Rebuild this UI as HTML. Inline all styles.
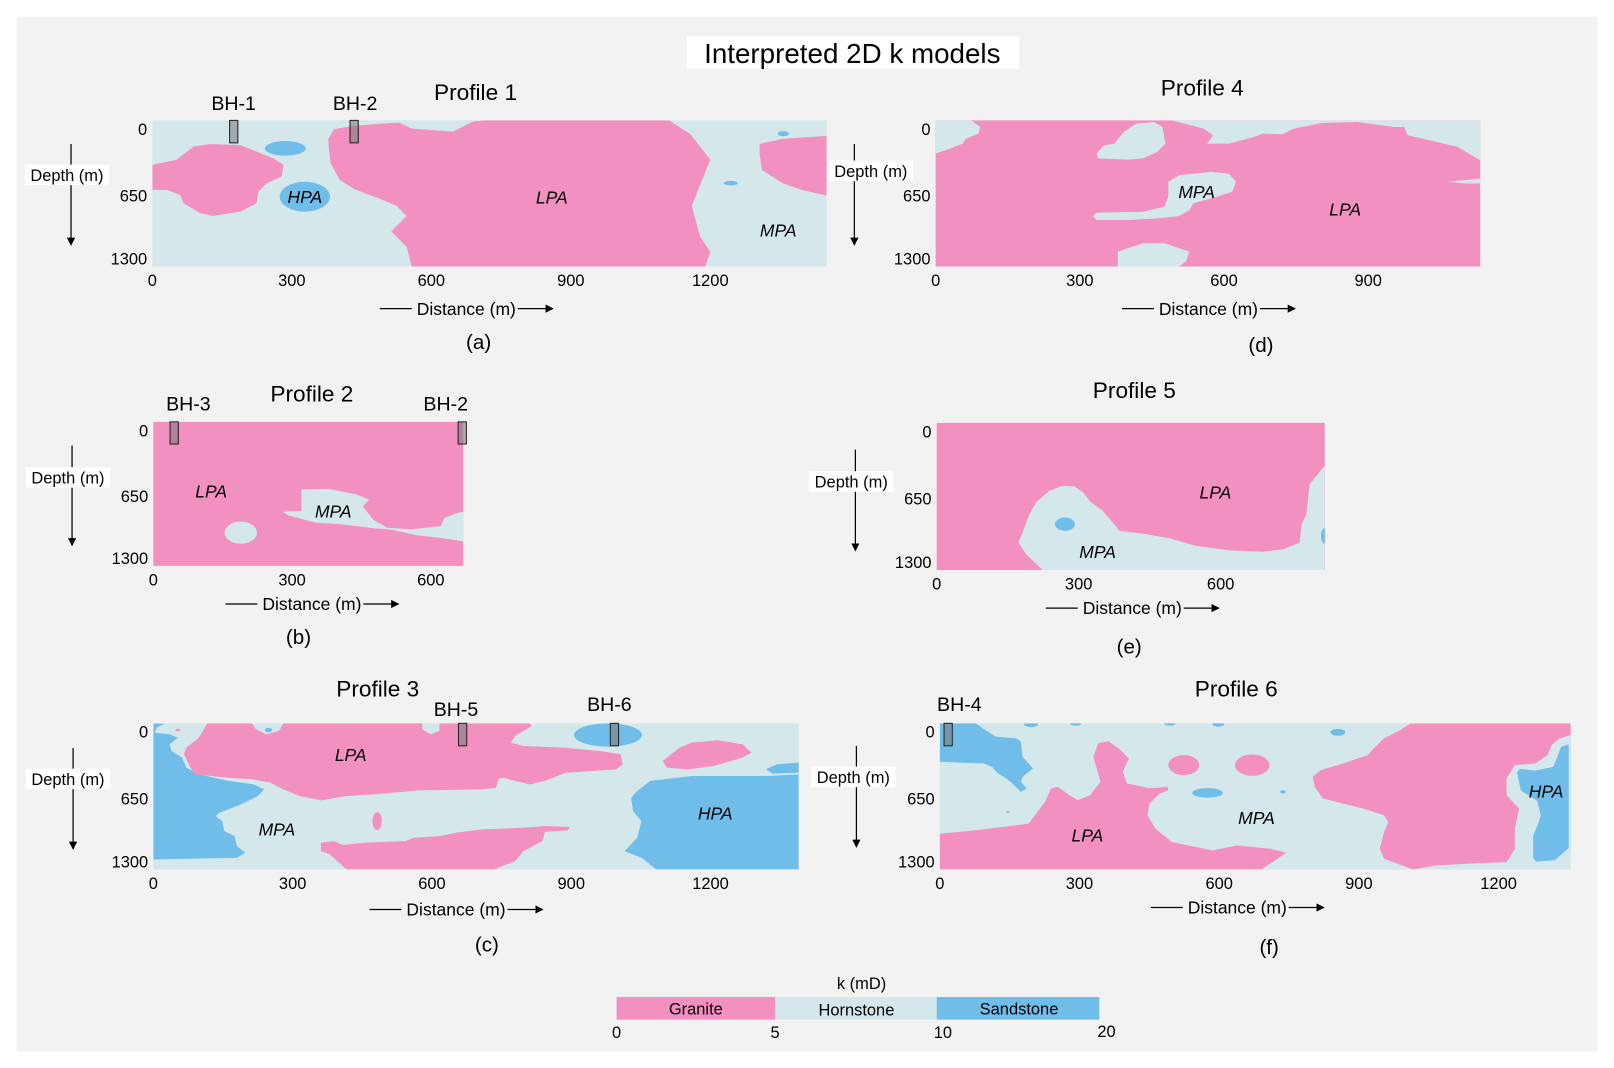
<!DOCTYPE html>
<html><head><meta charset="utf-8"><title>Interpreted 2D k models</title>
<style>
html,body{margin:0;padding:0;background:#fff;}
svg{display:block;font-family:"Liberation Sans",Arial,sans-serif;}
</style></head>
<body>
<svg id="chart" width="1614" height="1068" viewBox="0 0 1568 1038" preserveAspectRatio="none" xmlns="http://www.w3.org/2000/svg">
<rect x="0" y="0" width="1568" height="1038" fill="#ffffff"/>
<rect x="16" y="16" width="1536" height="1006" fill="#f2f2f2"/>
<rect x="667" y="35" width="323" height="32" fill="#ffffff"/>
<text x="828" y="61" font-size="27" text-anchor="middle" fill="#000">Interpreted 2D k models</text>
<g id="legend">
<text x="837" y="961" font-size="16" text-anchor="middle">k (mD)</text>
<rect x="599" y="969" width="154" height="22" fill="#f290c0"/>
<rect x="753" y="969" width="157" height="22" fill="#d4e7ea"/>
<rect x="910" y="969" width="158" height="22" fill="#70bdea"/>
<text x="676" y="986" font-size="16" text-anchor="middle">Granite</text>
<text x="832" y="987" font-size="16" text-anchor="middle">Hornstone</text>
<text x="990" y="986" font-size="16" text-anchor="middle">Sandstone</text>
<text x="599" y="1009" font-size="16" text-anchor="middle">0</text>
<text x="753" y="1009" font-size="16" text-anchor="middle">5</text>
<text x="916" y="1009" font-size="16" text-anchor="middle">10</text>
<text x="1075" y="1008" font-size="16" text-anchor="middle">20</text>
</g>
</svg>
<script>
// ---- data: polygons in [distance m, depth m]; ellipses [cx m, cd m, rx m, rd m]
const depthTicks = [0, 650, 1300];
const p1Ticks = [0, 300, 600, 900, 1200];
const p1Granite = [
 [[0,396],[52,352],[88,233],[124,210],[189,220],[224,278],[260,338],[282,396],[278,500],[246,560],[228,634],[224,738],[189,812],[131,850],[103,826],[67,738],[60,663],[31,619],[0,619]],
 [[383,375],[378,170],[390,80],[430,50],[490,30],[530,20],[558,73],[646,100],[691,9],[713,0],[1111,0],[1156,119],[1200,348],[1178,576],[1160,760],[1178,1034],[1200,1171],[1189,1300],[558,1300],[547,1125],[514,988],[547,851],[525,760],[494,706],[436,615],[403,530]],
 [[1306,210],[1355,165],[1450,137],[1450,668],[1399,622],[1355,558],[1311,439],[1306,300]]
];
const p1SandEll = [[286,249,44,65],[328,679,54,133],[1357,119,12,22],[1244,558,15,20]];
const p1Labels = [["HPA",328,679],["LPA",859,686],["MPA",1346,979]];
const p1Bh = [["BH-1",175,227],["BH-2",434,345]];

const p4Ticks = [0, 300, 600, 900];
const p4Horn = [
 [[0,0],[74,0],[93,59],[89,118],[63,163],[56,207],[30,251],[0,295]],
 [[335,295],[350,222],[372,207],[391,103],[417,30],[454,15],[472,59],[478,207],[461,281],[431,340],[402,349],[338,340]],
 [[491,0],[558,74],[577,133],[565,207],[610,207],[662,148],[681,118],[722,124],[744,74],[803,24],[878,15],[952,59],[975,59],[982,133],[1027,177],[1086,236],[1133,355],[1133,0]],
 [[1064,547],[1101,532],[1133,517],[1133,561],[1101,561]],
 [[484,547],[506,488],[573,458],[610,473],[625,547],[617,635],[580,686],[536,739],[528,798],[506,851],[461,872],[402,886],[335,886],[327,851],[335,821],[431,813],[476,768],[484,680]],
 [[379,1300],[379,1167],[431,1093],[476,1093],[528,1167],[521,1256],[506,1300]]
];
const p4Labels = [["MPA",543,635],["LPA",852,792]];

const p2Ticks = [0, 300, 600];
const p2Horn = [
 [[320,611],[380,605],[439,656],[467,701],[453,761],[475,881],[505,955],[556,970],[622,940],[629,866],[659,821],[680,806],[680,1090],[666,1075],[615,1045],[571,1024],[512,970],[483,964],[409,925],[351,910],[292,845],[281,815],[288,806],[320,806]]
];
const p2HornEll = [[189,1000,35,100]];
const p2Labels = [["LPA",125,626],["MPA",389,806]];
const p2Bh = [["BH-3",45,183],["BH-2",668,433]];

const p5Ticks = [0, 300, 600];
const p5Horn = [
 [[224,1300],[189,1161],[173,1058],[185,925],[196,807],[210,703],[238,600],[266,556],[291,561],[309,615],[326,703],[351,777],[369,866],[386,954],[443,984],[492,1019],[548,1087],[619,1126],[689,1138],[732,1117],[767,1058],[771,895],[781,807],[788,541],[820,378],[820,1300]]
];
const p5SandEll = [[271,895,21,59],[820,1000,8,70]];
const p5Labels = [["LPA",589,615],["MPA",340,1138]];

const p3Ticks = [0, 300, 600, 900, 1200];
const p3Sand = [
 [[0,0],[25,0],[7,39],[3,83],[35,98],[53,128],[35,187],[39,246],[62,306],[71,395],[98,454],[162,513],[216,543],[239,588],[225,647],[189,721],[143,795],[134,825],[148,870],[153,959],[175,1003],[180,1092],[198,1152],[180,1196],[0,1211]],
 [[1390,454],[1324,469],[1160,469],[1070,513],[1042,603],[1029,662],[1033,781],[1051,870],[1042,1018],[1015,1137],[1051,1196],[1083,1300],[1390,1300]],
 [[1319,410],[1342,365],[1390,350],[1390,439],[1333,448]]
];
const p3Granite = [
 [[116,0],[212,0],[221,53],[243,98],[271,68],[280,0],[579,0],[579,53],[597,98],[616,68],[616,0],[811,0],[815,24],[779,113],[770,172],[797,202],[888,217],[961,246],[1006,276],[1011,365],[997,410],[888,439],[843,513],[811,543],[752,484],[743,499],[738,573],[706,588],[570,597],[479,632],[416,647],[361,686],[316,647],[280,588],[252,528],[216,499],[162,484],[89,454],[80,395],[66,276],[71,217],[98,128]],
 [[1097,335],[1133,217],[1160,172],[1215,151],[1269,187],[1288,261],[1269,306],[1206,380],[1151,410],[1106,395]],
 [[361,1063],[389,1048],[407,1083],[452,1063],[543,1048],[561,1018],[616,1003],[652,973],[706,944],[797,929],[843,914],[897,923],[893,953],[843,965],[838,1048],[797,1137],[779,1226],[734,1300],[416,1300],[380,1166],[361,1137]]
];
const p3GraniteEll = [[482,870,10,80],[53,60,5,12]];
const p3SandEll = [[979,104,73,104],[248,60,8,20]];
const p3Labels = [["LPA",425,282],["MPA",266,944],["HPA",1210,801]];
const p3Bh = [["BH-5",666,443],["BH-6",993,592]];

const p6Ticks = [0, 300, 600, 900, 1200];
const p6Sand = [
 [[0,0],[77,0],[103,74],[121,119],[165,134],[174,164],[178,298],[200,402],[178,476],[174,521],[187,580],[174,610],[156,536],[143,491],[125,446],[112,387],[95,357],[0,342]]
];
const p6Granite = [
 [[0,982],[77,952],[191,893],[226,699],[239,580],[253,565],[279,640],[296,684],[323,640],[345,521],[340,446],[330,298],[340,179],[362,158],[384,223],[406,312],[393,431],[402,536],[446,574],[467,574],[489,565],[491,595],[472,625],[450,714],[446,818],[463,937],[498,1056],[551,1101],[586,1131],[638,1086],[709,1116],[744,1151],[691,1300],[0,1300]],
 [[1011,0],[1355,0],[1355,104],[1331,134],[1314,193],[1305,283],[1279,357],[1235,372],[1217,491],[1217,640],[1244,759],[1235,937],[1235,1116],[1217,1235],[1130,1250],[1068,1264],[1016,1300],[954,1205],[945,1116],[954,967],[963,878],[954,818],[910,759],[866,714],[823,669],[805,565],[801,476],[818,417],[866,357],[919,283],[932,223],[954,134],[989,60]]
];
const p6GraniteEll = [[524,372,33,89],[671,372,37,95]];
const p6SandHalo = [
 [[1355,164],[1331,193],[1323,283],[1314,372],[1279,402],[1244,387],[1235,431],[1244,610],[1279,699],[1286,818],[1279,907],[1270,997],[1270,1205],[1279,1250],[1323,1235],[1340,1175],[1355,1116]]
];
const p6SandEll = [[575,619,33,42],[855,80,16,30],[196,10,15,25],[292,5,12,15],[494,5,12,15],[598,10,13,20],[737,610,6,15],[146,788,4,8]];
const p6Labels = [["MPA",680,842],["LPA",317,997],["HPA",1302,604]];
const p6Bh = [["BH-4",18,932]];

// ---- rendering
const NS = 'http://www.w3.org/2000/svg';
const svg = document.getElementById('chart');
const COL = {granite:'#f290c0', horn:'#d4e7ea', sand:'#70bdea'};
function mk(tag, attrs, parent){
  const e = document.createElementNS(NS, tag);
  for (const k in attrs) e.setAttribute(k, attrs[k]);
  parent.appendChild(e);
  return e;
}
const panels = [
 {id:'a', title:'Profile 1', tx:462, ty:89, x0:148,x1:803,y0:117,y1:259, xmax:1450, ticks:p1Ticks, bg:'horn',
  layers:[['granite','poly',p1Granite],['sand','ell',p1SandEll]], labels:p1Labels, bh:p1Bh, bhY:100,
  dep:[69,140,238,65,170], dist:[453,300], cap:['(a)',465,332]},
 {id:'d', title:'Profile 4', tx:1168, ty:85, x0:909,x1:1438,y0:117,y1:259, xmax:1133, ticks:p4Ticks, bg:'granite',
  layers:[['horn','poly',p4Horn]], labels:p4Labels, bh:[], bhY:0,
  dep:[830,140,238,846,166], dist:[1174,300], cap:['(d)',1225,335]},
 {id:'b', title:'Profile 2', tx:303, ty:382, x0:149,x1:450,y0:410,y1:550, xmax:670, ticks:p2Ticks, bg:'granite',
  layers:[['horn','poly',p2Horn],['horn','ell',p2HornEll]], labels:p2Labels, bh:p2Bh, bhY:392,
  dep:[70,433,530,66,464], dist:[303,587], cap:['(b)',290,619]},
 {id:'e', title:'Profile 5', tx:1102, ty:379, x0:910,x1:1287,y0:411,y1:554, xmax:820, ticks:p5Ticks, bg:'granite',
  layers:[['horn','poly',p5Horn],['sand','ell',p5SandEll]], labels:p5Labels, bh:[], bhY:0,
  dep:[831,437,535,827,468], dist:[1100,591], cap:['(e)',1097,628]},
 {id:'c', title:'Profile 3', tx:367, ty:669, x0:149,x1:776,y0:703,y1:845, xmax:1390, ticks:p3Ticks, bg:'horn',
  layers:[['sand','poly',p3Sand],['granite','poly',p3Granite],['granite','ell',p3GraniteEll],['sand','ell',p3SandEll]], labels:p3Labels, bh:p3Bh, bhY:[689,684],
  dep:[71,727,825,66,757], dist:[443,884], cap:['(c)',473,918]},
 {id:'f', title:'Profile 6', tx:1201, ty:669, x0:913,x1:1526,y0:703,y1:845, xmax:1355, ticks:p6Ticks, bg:'horn',
  layers:[['sand','poly',p6Sand],['granite','poly',p6Granite],['sand','halo',p6SandHalo],['granite','ell',p6GraniteEll],['sand','ell',p6SandEll]], labels:p6Labels, bh:p6Bh, bhY:684,
  dep:[832,725,823,829,755], dist:[1202,882], cap:['(f)',1233,920]}
];

const defs = mk('defs', {}, svg);
const mk_marker = mk('marker', {id:'arrowhead', markerWidth:'8', markerHeight:'8', refX:'7', refY:'4', orient:'auto', markerUnits:'userSpaceOnUse'}, defs);
mk('path', {d:'M0,0 L8,4 L0,8 Z', fill:'#000'}, mk_marker);

panels.forEach(function(p){
  const xs = function(m){ return p.x0 + m * (p.x1 - p.x0) / p.xmax; };
  const ys = function(d){ return p.y0 + d * (p.y1 - p.y0) / 1300; };
  const g = mk('g', {}, svg);
  
  
  const cp = mk('clipPath', {id:'clip-' + p.id}, defs);
  mk('rect', {x:p.x0, y:p.y0, width:p.x1-p.x0, height:p.y1-p.y0}, cp);
  const bg = mk('rect', {x:p.x0, y:p.y0, width:p.x1-p.x0, height:p.y1-p.y0, fill:COL[p.bg]}, g);
  
  
  const mg = mk('g', {'clip-path':'url(#clip-' + p.id + ')'}, g);
  
  
  p.layers.forEach(function(L){
    const rock = L[0], type = L[1], arr = L[2];
    arr.forEach(function(item, i){
      let e;
      if (type === 'ell') {
        e = mk('ellipse', {cx:xs(item[0]), cy:ys(item[1]), rx:Math.abs(xs(item[2])-xs(0)), ry:Math.abs(ys(item[3])-ys(0)), fill:COL[rock]}, mg);
      } else {
        const pts = item.map(function(q){ return xs(q[0]).toFixed(1) + ',' + ys(q[1]).toFixed(1); }).join(' ');
        e = mk('polygon', {points:pts, fill:COL[rock]}, mg);
        if (type === 'halo') { e.setAttribute('stroke', COL.horn); e.setAttribute('stroke-width', '4'); }
      }
      
      
    });
  });
  p.labels.forEach(function(l){
    const t = mk('text', {x:xs(l[1]), y:ys(l[2]) + 6, 'font-size':'17', 'font-style':'italic', 'text-anchor':'middle'}, g);
    t.textContent = l[0];
    
    
  });
  p.bh.forEach(function(b, i){
    const bx = xs(b[1]);
    const r = mk('rect', {x:bx-4, y:p.y0, width:8, height:ys(200)-p.y0, fill:'rgba(120,120,120,0.55)', stroke:'#222', 'stroke-width':'1'}, g);
    
    
    const ly = Array.isArray(p.bhY) ? p.bhY[i] : p.bhY;
    const t = mk('text', {x:b[2], y:ly + 7, 'font-size':'19', 'text-anchor':'middle'}, g);
    t.textContent = b[0];
    
    
  });
  const tt = mk('text', {x:p.tx, y:p.ty + 8, 'font-size':'22', 'text-anchor':'middle'}, g);
  tt.textContent = p.title;
  
  
  p.ticks.forEach(function(v){
    const t = mk('text', {x:xs(v), y:p.y1 + 19, 'font-size':'16', 'text-anchor':'middle'}, g);
    t.textContent = String(v);
    
    
  });
  depthTicks.forEach(function(v, i){
    const cy = i === 0 ? p.y0 + 8 : (i === 2 ? p.y1 - 8 : ys(v) + 2);
    const t = mk('text', {x:p.x0 - 5, y:cy + 6, 'font-size':'16', 'text-anchor':'end'}, g);
    t.textContent = String(v);
    
    
  });
  const dp = p.dep;
  const dl = mk('line', {x1:dp[0], y1:dp[1], x2:dp[0], y2:dp[2], stroke:'#000', 'stroke-width':'1.2', 'marker-end':'url(#arrowhead)'}, g);
  
  
  const dbg = mk('rect', {x:dp[3]-41, y:dp[4]-10, width:82, height:20, fill:'#ffffff'}, g);
  
  
  const dt = mk('text', {x:dp[3], y:dp[4] + 6, 'font-size':'16', 'text-anchor':'middle'}, g);
  dt.textContent = 'Depth (m)';
  
  
  const ds = p.dist;
  const l1 = mk('line', {x1:ds[0]-84, y1:ds[1], x2:ds[0]-53, y2:ds[1], stroke:'#000', 'stroke-width':'1.2'}, g);
  
  
  const l2 = mk('line', {x1:ds[0]+50, y1:ds[1], x2:ds[0]+84, y2:ds[1], stroke:'#000', 'stroke-width':'1.2', 'marker-end':'url(#arrowhead)'}, g);
  
  
  const xt = mk('text', {x:ds[0], y:ds[1] + 6, 'font-size':'17', 'text-anchor':'middle'}, g);
  xt.textContent = 'Distance (m)';
  
  
  const ct = mk('text', {x:p.cap[1], y:p.cap[2] + 7, 'font-size':'20', 'text-anchor':'middle'}, g);
  ct.textContent = p.cap[0];
  
  
});
</script>
</body></html>
